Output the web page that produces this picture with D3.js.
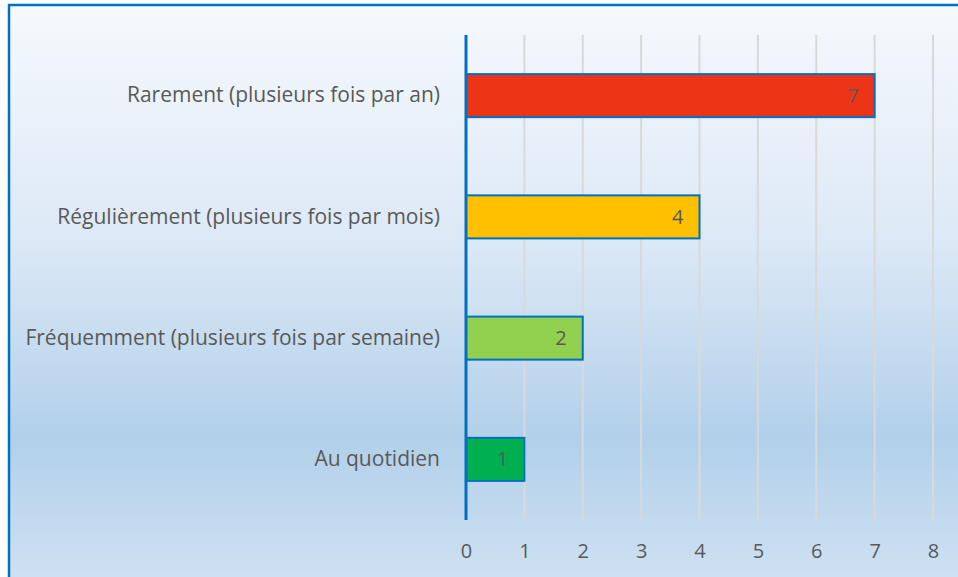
<!DOCTYPE html>
<html>
<head>
<meta charset="utf-8">
<script src="https://cdn.jsdelivr.net/npm/d3@7"></script>
<style>
    html, body { margin: 0; padding: 0; background: #ffffff; }
    svg { display: block; }
    text { font-family: "Open Sans", "Noto Sans", sans-serif; fill: #595959; }
</style>
</head>
<body>
<div id="chart"></div>
<script>
    // Chart data
    const categories = [
        "Rarement (plusieurs fois par an)",
        "Régulièrement (plusieurs fois par mois)",
        "Fréquemment (plusieurs fois par semaine)",
        "Au quotidien"
    ];
    const values = [7, 4, 2, 1];
    const barColors = ["#ee3416", "#ffc000", "#92d050", "#00b050"];
    const xTicks = [0, 1, 2, 3, 4, 5, 6, 7, 8];

    const width = 958;
    const height = 577;
    const margin = { top: 35, right: 25, bottom: 57, left: 466 };
    const plotWidth = width - margin.left - margin.right;
    const plotHeight = height - margin.top - margin.bottom;

    const svg = d3.select("#chart")
        .append("svg")
        .attr("width", width)
        .attr("height", height);

    // Background gradient like the spreadsheet chart area
    const defs = svg.append("defs");
    const grad = defs.append("linearGradient")
        .attr("id", "bg")
        .attr("x1", 0).attr("y1", 0).attr("x2", 0).attr("y2", 1);
    grad.append("stop").attr("offset", "0%").attr("stop-color", "#f6f9fd");
    grad.append("stop").attr("offset", "40%").attr("stop-color", "#dde9f6");
    grad.append("stop").attr("offset", "75%").attr("stop-color", "#b2d0ea");
    grad.append("stop").attr("offset", "100%").attr("stop-color", "#cfe1f2");

    svg.append("rect")
        .attr("x", 9)
        .attr("y", 5)
        .attr("width", width)
        .attr("height", height)
        .attr("fill", "url(#bg)")
        .attr("stroke", "#0070c0")
        .attr("stroke-width", 2.5);

    const g = svg.append("g")
        .attr("transform", `translate(${margin.left},${margin.top})`);

    const x = d3.scaleLinear()
        .domain([0, 8])
        .range([0, plotWidth]);

    const y = d3.scaleBand()
        .domain(categories)
        .range([0, plotHeight])
        .paddingInner(0.645)
        .paddingOuter(0.3225);

    // Vertical gridlines
    g.selectAll(".grid")
        .data(xTicks.filter(d => d > 0))
        .enter()
        .append("line")
        .attr("class", "grid")
        .attr("x1", d => x(d))
        .attr("x2", d => x(d))
        .attr("y1", 0)
        .attr("y2", plotHeight)
        .attr("stroke", "#d9d9d9")
        .attr("stroke-width", 2);

    // X axis tick labels
    const xAxis = g.append("g")
        .attr("transform", `translate(0,${plotHeight})`)
        .call(d3.axisBottom(x).tickValues(xTicks).tickSize(0).tickPadding(24));
    xAxis.select(".domain").remove();
    xAxis.selectAll("text")
        .style("font-size", "20px")
        .attr("fill", "#595959");

    // Category labels
    const yAxis = g.append("g")
        .call(d3.axisLeft(y).tickSize(0).tickPadding(26));
    yAxis.select(".domain").remove();
    yAxis.selectAll("text")
        .style("font-size", "21px")
        .attr("fill", "#595959");

    // Bars
    g.selectAll(".bar")
        .data(values)
        .enter()
        .append("rect")
        .attr("class", "bar")
        .attr("x", x(0))
        .attr("y", (d, i) => y(categories[i]))
        .attr("width", d => x(d) - x(0))
        .attr("height", y.bandwidth())
        .attr("fill", (d, i) => barColors[i])
        .attr("stroke", "#0070c0")
        .attr("stroke-width", 2);

    // Value labels inside bar ends
    g.selectAll(".value")
        .data(values)
        .enter()
        .append("text")
        .attr("class", "value")
        .attr("x", d => x(d) - 16)
        .attr("y", (d, i) => y(categories[i]) + y.bandwidth() / 2)
        .attr("dy", "0.35em")
        .attr("text-anchor", "end")
        .style("font-size", "20px")
        .attr("fill", "#404040")
        .text(d => d);

    // Vertical axis line
    g.append("line")
        .attr("x1", x(0))
        .attr("x2", x(0))
        .attr("y1", 0)
        .attr("y2", plotHeight)
        .attr("stroke", "#0070c0")
        .attr("stroke-width", 3);
</script>
</body>
</html>
